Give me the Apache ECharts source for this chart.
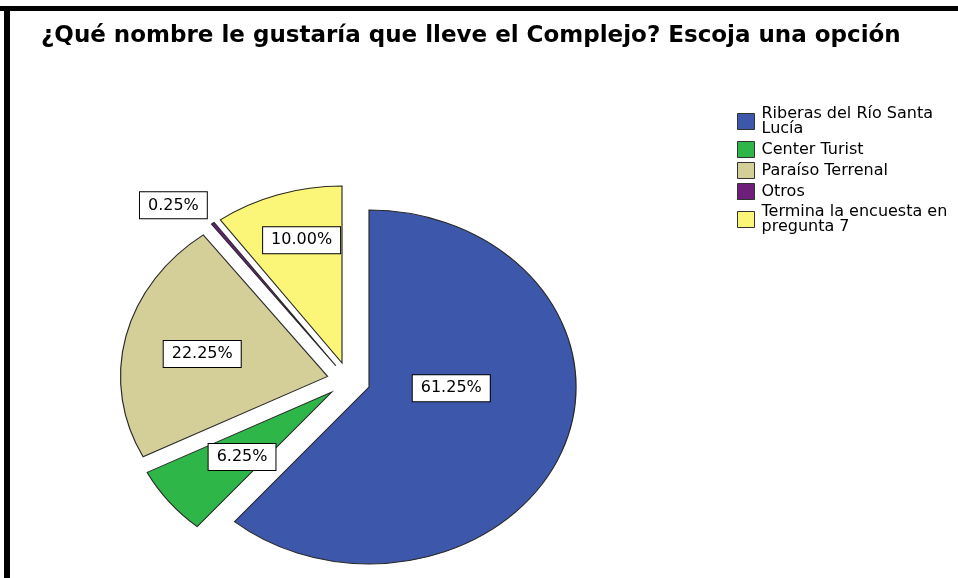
<!DOCTYPE html>
<html>
<head>
<meta charset="utf-8">
<script src="https://cdn.jsdelivr.net/npm/echarts@6/dist/echarts.min.js"></script>
<style>
  html, body { margin: 0; padding: 0; background: #fff; }
  #chart { width: 958px; height: 578px; }
</style>
</head>
<body>
<div id="chart"></div>
<script>
// datos de la encuesta
const categories = ['Riberas del Río Santa Lucía', 'Center Turist', 'Paraíso Terrenal', 'Otros', 'Termina la encuesta en pregunta 7'];
const percents = [61.25, 6.25, 22.25, 0.25, 10.00];
const legendLabels = ['Riberas del Río Santa\nLucía', 'Center Turist', 'Paraíso Terrenal', 'Otros', 'Termina la encuesta en\npregunta 7'];
const colors = ['#3d58ab', '#2eb748', '#d4ce98', '#6e1f7a', '#fbf678'];

// geometria del pastel (elipse como en SPSS)
const CX = 348.7, CY = 380.6, R = 177, SX = 1.17, EXPLODE = 18.5;
// posicion de etiquetas: [radio, angulo]
const labelPlace = [[88, 95], [119, 230], [128, 282], null, [146, 344]];

const total = percents.reduce((a, b) => a + b, 0);
const starts = [];
percents.reduce((acc, v, i) => { starts[i] = acc; return acc + v; }, 0);

const toRad = deg => (deg - 90) * Math.PI / 180;

function sliceRenderer(idx) {
  return function (params, api) {
    const v = api.value(0);
    const a0 = starts[idx] / total * 360;
    const a1 = a0 + v / total * 360;
    const mid = toRad((a0 + a1) / 2);
    const ox = EXPLODE * Math.cos(mid), oy = EXPLODE * Math.sin(mid);

    const text = v.toFixed(2) + '%';
    const boxStyle = {
      text: text, fill: '#000', fontFamily: 'DejaVu Sans', fontSize: 16, lineHeight: 16,
      backgroundColor: '#fff', borderColor: '#000', borderWidth: 1, padding: [5, 8]
    };
    let label;
    if (labelPlace[idx]) {
      const lr = labelPlace[idx][0];
      const la = toRad(labelPlace[idx][1]);
      label = {
        type: 'text', x: CX + SX * lr * Math.cos(la), y: CY + lr * Math.sin(la),
        style: Object.assign({ align: 'center', verticalAlign: 'middle' }, boxStyle)
      };
    } else {
      // etiqueta afuera, en la punta
      const tr = R + EXPLODE;
      label = {
        type: 'text', x: CX + SX * tr * Math.cos(mid) - 6, y: CY + tr * Math.sin(mid) - 5,
        style: Object.assign({ align: 'right', verticalAlign: 'bottom' }, boxStyle)
      };
    }
    return {
      type: 'group',
      children: [{
        type: 'sector',
        x: CX, y: CY, scaleX: SX,
        shape: { cx: ox, cy: oy, r0: 0, r: R, startAngle: toRad(a0), endAngle: toRad(a1), clockwise: true },
        style: { fill: colors[idx], stroke: '#2a2a2a', lineWidth: 1, strokeNoScale: true }
      }, label]
    };
  };
}

const myChart = echarts.init(document.getElementById('chart'));
const option = {
  animation: false,
  title: {
    text: '¿Qué nombre le gustaría que lleve el Complejo? Escoja una opción',
    left: 36, top: 20,
    textStyle: { fontFamily: 'DejaVu Sans', fontWeight: 'bold', fontSize: 23, color: '#000' }
  },
  legend: {
    orient: 'vertical', left: 737, top: 106, padding: 0,
    icon: 'rect', itemWidth: 17, itemHeight: 16, itemGap: 4,
    selectedMode: false,
    data: categories,
    formatter: name => legendLabels[categories.indexOf(name)],
    itemStyle: { borderColor: '#333', borderWidth: 1 },
    textStyle: { fontFamily: 'DejaVu Sans', fontSize: 16, lineHeight: 15, color: '#000', padding: [0, 0, 0, 2] }
  },
  graphic: [
    { type: 'rect', shape: { x: 0, y: 6, width: 958, height: 5 }, style: { fill: '#000' } },
    { type: 'rect', shape: { x: 4, y: 6, width: 6, height: 572 }, style: { fill: '#000' } }
  ],
  series: categories.map((name, i) => ({
    type: 'custom',
    name: name,
    coordinateSystem: 'none',
    itemStyle: { color: colors[i] },
    renderItem: sliceRenderer(i),
    data: [[percents[i]]]
  }))
};
myChart.setOption(option);
</script>
</body>
</html>
